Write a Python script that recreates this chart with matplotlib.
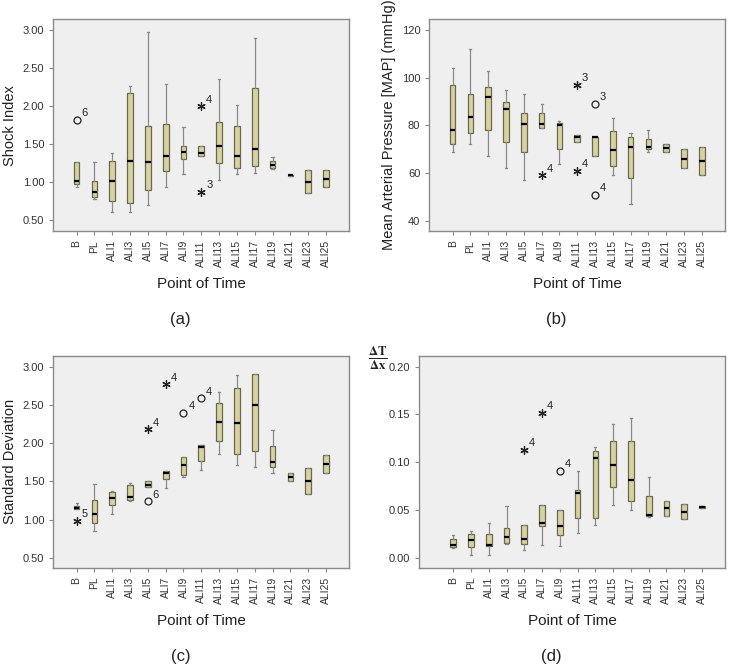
import numpy as np
import matplotlib
matplotlib.use("Agg")
import matplotlib.pyplot as plt

plt.rcParams["font.family"] = ["Liberation Sans", "DejaVu Sans"]
plt.rcParams["mathtext.fontset"] = "stix"

categories = ["B", "PL", "ALI1", "ALI3", "ALI5", "ALI7", "ALI9", "ALI11",
              "ALI13", "ALI15", "ALI17", "ALI19", "ALI21", "ALI23", "ALI25"]

# (a) Shock Index
si_low = [0.93, 0.78, 0.61, 0.60, 0.70, 0.93, 1.10, 1.35, 1.03, 1.11, 1.12, 1.17, 1.085, 0.85, 0.93]
si_q1 = [0.98, 0.81, 0.75, 0.73, 0.90, 1.15, 1.31, 1.35, 1.25, 1.18, 1.21, 1.19, 1.085, 0.85, 0.93]
si_med = [1.01, 0.87, 1.02, 1.28, 1.27, 1.34, 1.39, 1.38, 1.47, 1.35, 1.44, 1.22, 1.09, 1.00, 1.04]
si_q3 = [1.26, 1.02, 1.28, 2.18, 1.74, 1.76, 1.48, 1.47, 1.79, 1.74, 2.24, 1.28, 1.095, 1.16, 1.16]
si_high = [1.26, 1.26, 1.38, 2.27, 2.98, 2.29, 1.72, 1.47, 2.36, 2.01, 2.90, 1.33, 1.095, 1.16, 1.16]
si_out = [("B", 1.82, "6", "o"), ("ALI11", 2.00, "4", "*"), ("ALI11", 0.87, "3", "*")]

# (b) Mean arterial pressure
map_low = [69, 72, 67, 62, 57, 79, 64, 73, 67, 59, 47, 69, 69, 62, 59]
map_q1 = [72, 77, 78, 73, 69, 79, 70, 73, 67, 63, 58, 70, 69, 62, 59]
map_med = [78, 83.5, 92, 87, 80.5, 80.5, 80, 75, 75, 69.5, 71, 71, 70.5, 66, 65]
map_q3 = [97, 93, 96, 90, 85, 85, 81, 76, 75, 77.5, 75, 74.5, 72, 70, 71]
map_high = [104, 112, 103, 95, 93, 89, 82, 76, 75, 83, 77, 78, 72, 70, 71]
map_out = [("ALI7", 59, "4", "*"), ("ALI11", 97, "3", "*"), ("ALI11", 61, "4", "*"),
           ("ALI13", 89, "3", "o"), ("ALI13", 51, "4", "o")]

# (c) Standard deviation
sd_low = [1.14, 0.85, 1.08, 1.25, 1.43, 1.42, 1.56, 1.65, 1.86, 1.71, 1.69, 1.61, 1.51, 1.33, 1.61]
sd_q1 = [1.145, 0.96, 1.19, 1.26, 1.43, 1.53, 1.58, 1.77, 2.03, 1.86, 1.90, 1.69, 1.51, 1.33, 1.61]
sd_med = [1.16, 1.07, 1.29, 1.30, 1.45, 1.61, 1.71, 1.95, 2.28, 2.27, 2.50, 1.76, 1.56, 1.50, 1.73]
sd_q3 = [1.18, 1.26, 1.36, 1.46, 1.50, 1.64, 1.82, 1.98, 2.52, 2.72, 2.91, 1.97, 1.61, 1.68, 1.84]
sd_high = [1.22, 1.47, 1.37, 1.48, 1.50, 1.64, 1.82, 1.98, 2.67, 2.89, 2.91, 2.17, 1.61, 1.68, 1.84]
sd_out = [("B", 0.99, "5", "*"), ("ALI5", 2.18, "4", "*"), ("ALI5", 1.24, "6", "o"),
          ("ALI7", 2.77, "4", "*"), ("ALI9", 2.40, "4", "o"), ("ALI11", 2.59, "4", "o")]

# (d) dT/dx
dt_low = [0.010, 0.003, 0.003, 0.015, 0.008, 0.013, 0.012, 0.026, 0.034, 0.055, 0.050, 0.043, 0.044, 0.041, 0.052]
dt_q1 = [0.011, 0.011, 0.012, 0.016, 0.015, 0.033, 0.024, 0.042, 0.042, 0.074, 0.059, 0.044, 0.044, 0.041, 0.052]
dt_med = [0.013, 0.019, 0.014, 0.022, 0.020, 0.037, 0.033, 0.068, 0.104, 0.097, 0.082, 0.045, 0.052, 0.048, 0.053]
dt_q3 = [0.020, 0.025, 0.025, 0.031, 0.034, 0.055, 0.050, 0.071, 0.112, 0.122, 0.122, 0.065, 0.060, 0.056, 0.054]
dt_high = [0.024, 0.028, 0.037, 0.054, 0.034, 0.055, 0.050, 0.091, 0.116, 0.140, 0.146, 0.085, 0.060, 0.056, 0.054]
dt_out = [("ALI5", 0.113, "4", "*"), ("ALI7", 0.152, "4", "*"), ("ALI9", 0.091, "4", "o")]

BOX_FILL = "#d8d2a2"
BOX_EDGE = "#6a6848"
GREY = "#8a8a8a"
BG = "#efefef"


def draw_panel(ax, low, q1, med, q3, high, outliers, ylim, yticks, fmt, xlim, ylabel, caption):
    stats = [
        {"whislo": lo, "q1": a, "med": m, "q3": b, "whishi": hi, "fliers": []}
        for lo, a, m, b, hi in zip(low, q1, med, q3, high)
    ]
    pos = np.arange(len(categories))
    ax.bxp(stats, positions=pos, widths=0.32, patch_artist=True, showfliers=False,
           boxprops=dict(facecolor=BOX_FILL, edgecolor=BOX_EDGE, linewidth=0.9),
           medianprops=dict(color="black", linewidth=1.6),
           whiskerprops=dict(color=GREY, linewidth=0.9),
           capprops=dict(color=GREY, linewidth=0.9), capwidths=0.12)
    for cat, val, lab, kind in outliers:
        x = categories.index(cat)
        if kind == "o":
            ax.plot(x, val, marker="o", ms=5, mfc="none", mec="#222222", mew=0.9)
        else:
            ax.plot(x, val, marker=(6, 2, 0), ms=6, color="#222222", mew=0.9)
        ax.annotate(lab, (x, val), xytext=(3.5, 2.5), textcoords="offset points",
                    fontsize=8, color="#222222")
    ax.set_facecolor(BG)
    ax.set_xlim(*xlim)
    ax.set_ylim(*ylim)
    ax.set_yticks(yticks)
    ax.set_yticklabels([fmt.format(v) for v in yticks])
    ax.set_xticks(pos)
    ax.set_xticklabels(categories, rotation=90)
    for side in ["top", "right", "left", "bottom"]:
        ax.spines[side].set_color(GREY)
        ax.spines[side].set_linewidth(1.0)
    ax.tick_params(colors=GREY, labelcolor="#333333", length=3, width=0.8)
    ax.tick_params(axis="y", labelsize=8)
    ax.tick_params(axis="x", labelsize=7.5)
    ax.set_xlabel("Point of Time", fontsize=11, color="#222222", labelpad=7)
    if ylabel:
        ax.set_ylabel(ylabel, fontsize=10.5, color="#222222", labelpad=4)
    ax.text(0.43, -0.42, caption, transform=ax.transAxes, ha="center", va="center",
            fontsize=12, color="#222222")


fig = plt.figure(figsize=(7.32, 6.71), dpi=100)
ax_a = fig.add_axes([0.0728, 0.6557, 0.4044, 0.3155])
ax_b = fig.add_axes([0.5865, 0.6557, 0.4040, 0.3155])
ax_c = fig.add_axes([0.0728, 0.1540, 0.4044, 0.3155])
ax_d = fig.add_axes([0.5728, 0.1540, 0.4180, 0.3155])

draw_panel(ax_a, si_low, si_q1, si_med, si_q3, si_high, si_out, (0.355, 3.145),
           [0.5, 1.0, 1.5, 2.0, 2.5, 3.0], "{:.2f}", (-1.31, 15.31), "Shock Index", "(a)")
draw_panel(ax_b, map_low, map_q1, map_med, map_q3, map_high, map_out, (35.7, 124.5),
           [40, 60, 80, 100, 120], "{:.0f}", (-1.31, 15.31), "Mean Arterial Pressure [MAP] (mmHg)", "(b)")
draw_panel(ax_c, sd_low, sd_q1, sd_med, sd_q3, sd_high, sd_out, (0.374, 3.14),
           [0.5, 1.0, 1.5, 2.0, 2.5, 3.0], "{:.2f}", (-1.31, 15.31), "Standard Deviation", "(c)")
draw_panel(ax_d, dt_low, dt_q1, dt_med, dt_q3, dt_high, dt_out, (-0.0102, 0.2112),
           [0.0, 0.05, 0.10, 0.15, 0.20], "{:.2f}", (-1.91, 15.31), None, "(d)")

fig.text(378 / 732, 1 - 358 / 671, r"$\mathbf{\frac{\Delta T}{\Delta x}}$", ha="center", va="center",
         fontsize=13, color="#222222")

fig.savefig("out.png", dpi=100)
